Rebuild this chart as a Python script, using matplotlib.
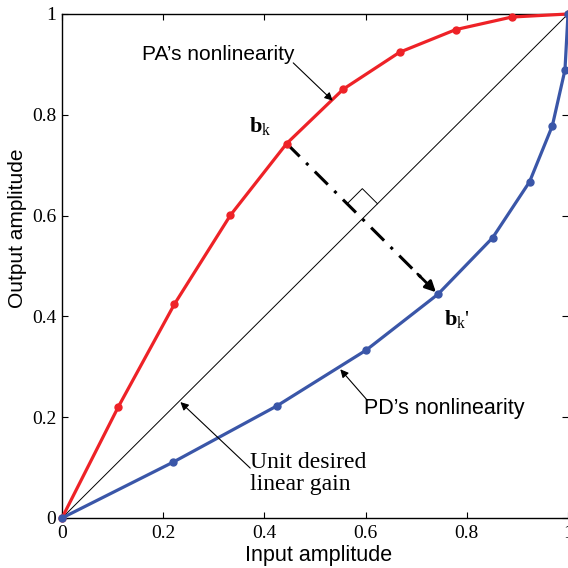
import numpy as np
import matplotlib
matplotlib.use("Agg")
import matplotlib.pyplot as plt

# data
pa_x = [0, 0.111, 0.222, 0.333, 0.444, 0.556, 0.667, 0.778, 0.889, 1.0]
pa_y = [0, 0.220, 0.424, 0.601, 0.743, 0.851, 0.924, 0.969, 0.994, 1.0]
pd_x = [0, 0.220, 0.424, 0.601, 0.743, 0.851, 0.924, 0.969, 0.994, 1.0]
pd_y = [0, 0.111, 0.222, 0.333, 0.444, 0.556, 0.667, 0.778, 0.889, 1.0]
ticks = [0, 0.2, 0.4, 0.6, 0.8, 1.0]
tick_labels = ["0", "0.2", "0.4", "0.6", "0.8", "1"]
k_index = 4

red = "#EE2227"
blue = "#3A56A8"
serif = "Liberation Serif"
sans = "Liberation Sans"

plt.rcParams["mathtext.fontset"] = "custom"
plt.rcParams["mathtext.rm"] = serif
plt.rcParams["mathtext.bf"] = serif + ":bold"
plt.rcParams["mathtext.it"] = serif + ":italic"

fig = plt.figure(figsize=(5.68, 5.68), dpi=100)
ax = fig.add_axes([62/568, 50/568, 506/568, 504/568])

ax.plot([0, 1], [0, 1], color="black", lw=0.7)
ax.plot(pa_x, pa_y, color=red, lw=2.3, marker="o", ms=5, zorder=3, clip_on=False)
ax.plot(pd_x, pd_y, color=blue, lw=2.3, marker="o", ms=5, zorder=3, clip_on=False)

# dash-dot arrow from b_k to b_k'
x0, y0 = pa_x[k_index], pa_y[k_index]
x1, y1 = pd_x[k_index], pd_y[k_index]
ax.plot([x0, x1 - 0.02], [y0, y1 + 0.02], color="black", lw=2.2,
        dashes=[6, 3, 1, 3], zorder=2)
ax.annotate("", xy=(x1 - 0.004, y1 + 0.004), xytext=(x1 - 0.04, y1 + 0.04),
            arrowprops=dict(arrowstyle="-|>", color="black", lw=2.0,
                            mutation_scale=16, shrinkA=0, shrinkB=0))

# right angle marker
m = (x0 + y0) / 2
d = 0.03
ax.plot([m - d, m, m + d], [m + d, m + 2 * d, m + d], color="black", lw=0.7)

ax.text(x0 - 0.053, y0 + 0.034, r"$\mathbf{b}_\mathrm{k}$", fontsize=16,
        ha="center", va="center")
ax.text(x1 + 0.037, y1 - 0.05, r"$\mathbf{b}_\mathrm{k}$'", fontsize=16,
        ha="center", va="center", fontfamily=serif)

ax.text(0.308, 0.919, "PA\u2019s nonlinearity", fontsize=15, fontfamily=sans,
        ha="center", va="center")
ax.annotate("", xy=(0.535, 0.828), xytext=(0.457, 0.903),
            arrowprops=dict(arrowstyle="-|>", color="black", lw=0.8,
                            mutation_scale=12, shrinkA=0, shrinkB=0))

ax.text(0.755, 0.218, "PD\u2019s nonlinearity", fontsize=15.5, fontfamily=sans,
        ha="center", va="center")
ax.annotate("", xy=(0.55, 0.295), xytext=(0.603, 0.234),
            arrowprops=dict(arrowstyle="-|>", color="black", lw=0.8,
                            mutation_scale=12, shrinkA=0, shrinkB=0))

ax.text(0.372, 0.088, "Unit desired\nlinear gain", fontsize=17,
        fontfamily=serif, ha="left", va="center", linespacing=1.05)
ax.annotate("", xy=(0.234, 0.230), xytext=(0.372, 0.099),
            arrowprops=dict(arrowstyle="-|>", color="black", lw=0.8,
                            mutation_scale=12, shrinkA=0, shrinkB=0))

ax.set_xlim(0, 1)
ax.set_ylim(0, 1)
ax.set_xticks(ticks)
ax.set_yticks(ticks)
ax.set_xticklabels(tick_labels, fontfamily=serif, fontsize=14)
ax.set_yticklabels(tick_labels, fontfamily=serif, fontsize=14)
ax.tick_params(direction="in", top=True, right=True, length=4, width=0.8)
ax.tick_params(axis="x", pad=5)
ax.tick_params(axis="y", pad=4)
for s in ax.spines.values():
    s.set_linewidth(1.0)
ax.spines["right"].set_visible(False)

fig.text(319/568, 1 - 555/568, "Input amplitude", fontsize=15.5, fontfamily=sans,
         ha="center", va="center")
fig.text(18/568, 1 - 228/568, "Output amplitude", fontsize=15, fontfamily=sans,
         ha="center", va="center", rotation=90)

fig.savefig("out.png", dpi=100)
